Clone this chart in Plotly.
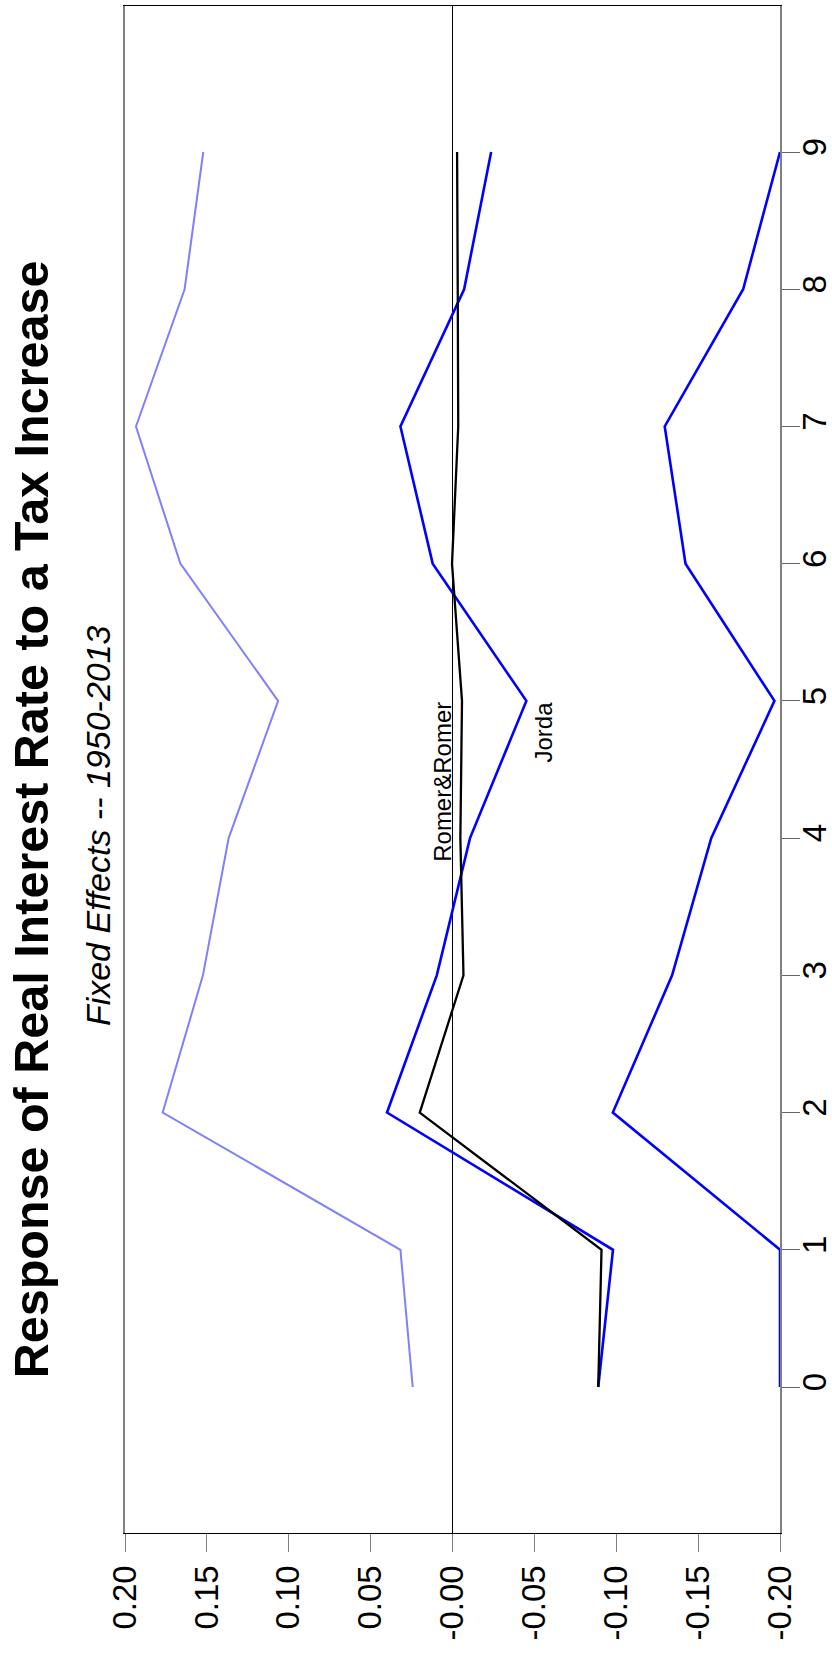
import plotly.graph_objects as go

# Horizon (years after tax increase)
horizon = [0, 1, 2, 3, 4, 5, 6, 7, 8, 9]

# Romer & Romer point estimate
romer = [-0.089, -0.091, 0.020, -0.0067, -0.0048, -0.0058, 0.0003, -0.0035, -0.0032, -0.0028]
# Jorda point estimate
jorda = [-0.089, -0.098, 0.040, 0.0096, -0.0107, -0.0451, 0.0121, 0.0318, -0.0071, -0.0236]
# Jorda confidence bands
jorda_upper = [0.0243, 0.0318, 0.1770, 0.1524, 0.1367, 0.1065, 0.1662, 0.1933, 0.1636, 0.1522]
jorda_lower = [-0.200, -0.200, -0.0979, -0.1341, -0.1580, -0.1966, -0.1423, -0.1296, -0.1775, -0.200]

value_ticks = [0.20, 0.15, 0.10, 0.05, 0.0, -0.05, -0.10, -0.15, -0.20]
value_ticktext = ["0.20", "0.15", "0.10", "0.05", "-0.00", "-0.05", "-0.10", "-0.15", "-0.20"]
horizon_ticktext = [str(h) for h in horizon]

title_text = "Response of Real Interest Rate to a Tax Increase"
subtitle_text = "Fixed Effects -- 1950-2013"

FONT = "Liberation Sans, Arial, Helvetica, sans-serif"

fig = go.Figure()
fig.add_trace(go.Scatter(x=jorda_upper, y=horizon, mode="lines",
                         line=dict(color="#7f7fff", width=2.0), showlegend=False))
fig.add_trace(go.Scatter(x=jorda_lower, y=horizon, mode="lines",
                         line=dict(color="#0000ff", width=2.6), showlegend=False))
fig.add_trace(go.Scatter(x=jorda, y=horizon, mode="lines",
                         line=dict(color="#0000ff", width=2.6), showlegend=False))
fig.add_trace(go.Scatter(x=romer, y=horizon, mode="lines",
                         line=dict(color="#000000", width=2.3), showlegend=False))

fig.update_layout(
    width=832, height=1653,
    margin=dict(l=125, r=52, t=6, b=120, autoexpand=False),
    paper_bgcolor="white", plot_bgcolor="white",
    font=dict(family=FONT, color="black"),
    showlegend=False,
    xaxis=dict(
        range=[0.2, -0.2], tickvals=value_ticks, ticktext=value_ticktext,
        tickangle=-90, ticks="outside", ticklen=18, tickwidth=1.2, tickcolor="#808080",
        showline=True, linecolor="black", linewidth=1.3, mirror=True,
        showgrid=False, zeroline=True, zerolinecolor="black", zerolinewidth=1,
        tickfont=dict(size=33, family=FONT), ticklabelstandoff=0, layer="below traces",
        automargin=False,
    ),
    yaxis=dict(
        range=[-1.064, 10.064], side="right", tickvals=horizon, ticktext=horizon_ticktext,
        tickangle=-90, ticks="outside", ticklen=18, tickwidth=1.2, tickcolor="#666666",
        showline=True, linecolor="#808080", linewidth=1.8, mirror=True,
        showgrid=False, zeroline=False,
        tickfont=dict(size=33, family=FONT), ticklabelstandoff=-14, layer="below traces",
        automargin=False,
    ),
    annotations=[
        dict(text="<b>" + title_text + "</b>", xref="paper", yref="paper",
             x=-0.143, y=0.4676, xanchor="center", yanchor="middle", textangle=-90,
             showarrow=False, font=dict(size=48.5, family=FONT, color="black")),
        dict(text="<i>" + subtitle_text + "</i>", xref="paper", yref="paper",
             x=-0.0414, y=0.4635, xanchor="center", yanchor="middle", textangle=-90,
             showarrow=False, font=dict(size=34, family=FONT, color="black")),
        dict(text="Romer&Romer", xref="x", yref="y", x=-0.003, y=5,
             xanchor="right", yanchor="top", textangle=-90, showarrow=False,
             borderpad=0, font=dict(size=24, family=FONT, color="black")),
        dict(text="Jorda", xref="x", yref="y", x=-0.0465, y=5,
             xanchor="left", yanchor="top", textangle=-90, showarrow=False,
             borderpad=0, font=dict(size=24, family=FONT, color="black")),
    ],
)

fig.write_html("out.html",
               config={"displayModeBar": False},
               post_script="document.body.style.margin='0';document.body.style.overflow='hidden';")
